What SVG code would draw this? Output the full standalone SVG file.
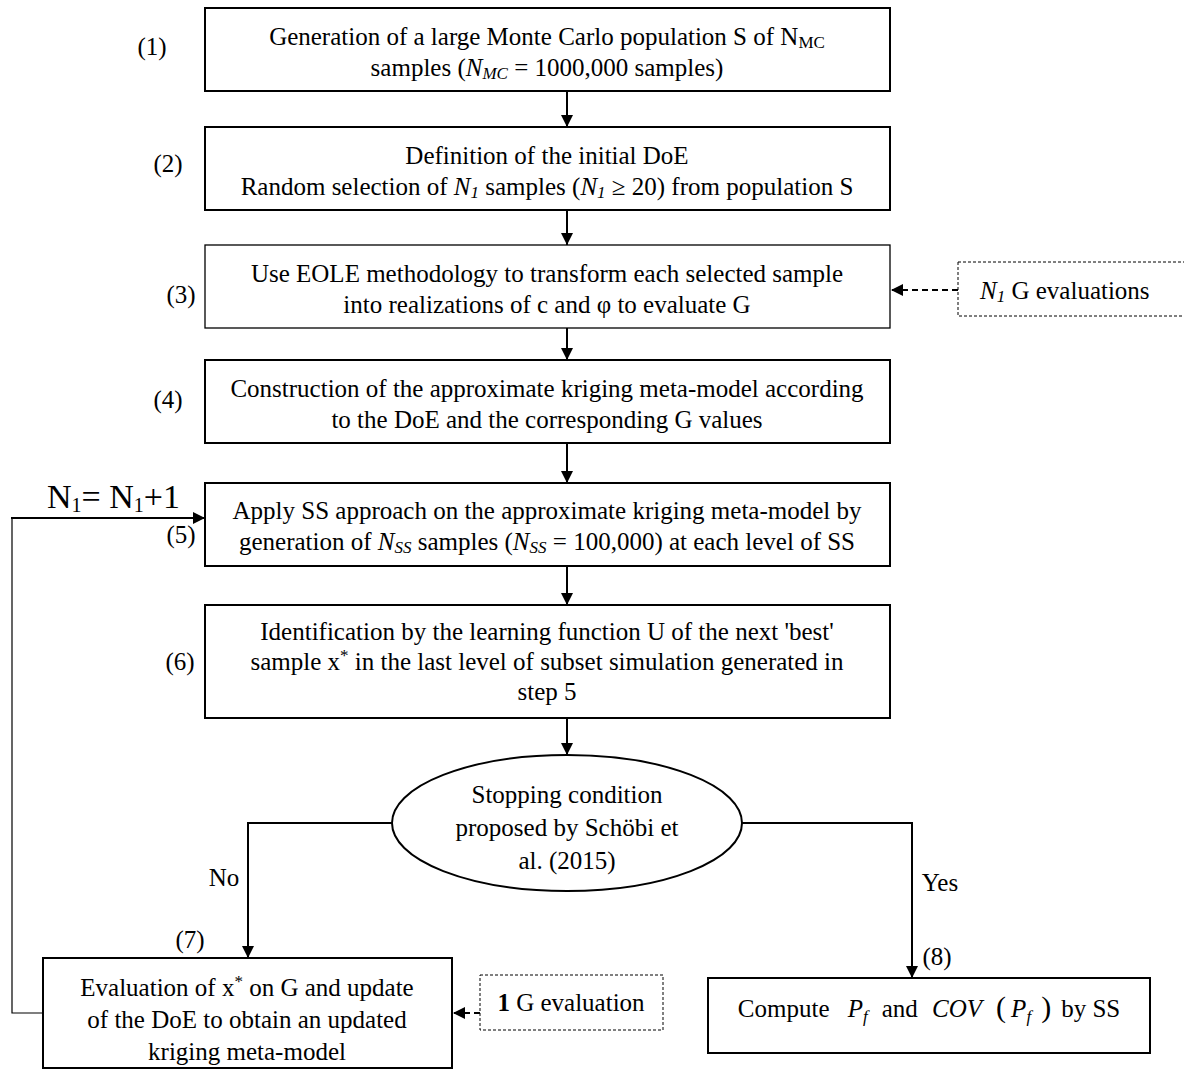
<svg xmlns="http://www.w3.org/2000/svg" width="1184" height="1073" viewBox="0 0 1184 1073" font-family="'Liberation Serif', 'DejaVu Serif', serif">
  <style>
    text { font-family: "Liberation Serif", "DejaVu Serif", serif; font-size: 25px; fill: #000; }
    .c { text-anchor: middle; }
    .box { fill: #fff; stroke: #000; stroke-width: 2; }
    .dash { fill: #fff; stroke: #000; stroke-width: 1; stroke-dasharray: 3 2; }
    .line { fill: none; stroke: #000; stroke-width: 2; }
    .thin { fill: none; stroke: #000; stroke-width: 1.2; }
    .dline { fill: none; stroke: #000; stroke-width: 2; stroke-dasharray: 6 4; }
    .i { font-style: italic; }
    .sub { font-size: 17px; }
    .big { font-size: 34px; }
    .bigsub { font-size: 20px; }
  </style>
  <defs>
    <marker id="arrow" viewBox="0 0 10 10" refX="10" refY="5" markerWidth="6.5" markerHeight="6" markerUnits="strokeWidth" orient="auto">
      <path d="M0,0 L10,5 L0,10 z" fill="#000"/>
    </marker>
  </defs>

  <!-- connectors -->
  <g id="connectors">
    <line class="line" x1="567" y1="91" x2="567" y2="127" marker-end="url(#arrow)"/>
    <line class="line" x1="567" y1="210" x2="567" y2="245" marker-end="url(#arrow)"/>
    <line class="line" x1="567" y1="328" x2="567" y2="360" marker-end="url(#arrow)"/>
    <line class="line" x1="567" y1="443" x2="567" y2="483" marker-end="url(#arrow)"/>
    <line class="line" x1="567" y1="566" x2="567" y2="605" marker-end="url(#arrow)"/>
    <line class="line" x1="567" y1="718" x2="567" y2="755" marker-end="url(#arrow)"/>
    <!-- evaluation inputs -->
    <line class="dline" x1="958" y1="290" x2="891" y2="290" marker-end="url(#arrow)"/>
    <line class="dline" x1="480" y1="1013" x2="453" y2="1013" marker-end="url(#arrow)"/>
    <!-- decision branches -->
    <polyline class="line" points="392,823 248,823 248,958" marker-end="url(#arrow)"/>
    <polyline class="line" points="742,823 912,823 912,978" marker-end="url(#arrow)"/>
    <!-- loop back to step 5 -->
    <polyline class="thin" points="43,1013 12,1013 12,518"/>
    <line class="line" x1="11" y1="518" x2="205" y2="518" marker-end="url(#arrow)"/>
  </g>

  <!-- step labels -->
  <g id="labels">
    <text x="152" y="55" class="c">(1)</text>
    <text x="168" y="172" class="c">(2)</text>
    <text x="181" y="303" class="c">(3)</text>
    <text x="168" y="408" class="c">(4)</text>
    <text x="181" y="543" class="c">(5)</text>
    <text x="180" y="670" class="c">(6)</text>
    <text x="190" y="948" class="c">(7)</text>
    <text x="937" y="965" class="c">(8)</text>
    <text x="224" y="886" class="c">No</text>
    <text x="940" y="891" class="c">Yes</text>
    <text x="47" y="508" class="big">N<tspan class="bigsub" dy="4">1</tspan><tspan dy="-4">= N</tspan><tspan class="bigsub" dy="4">1</tspan><tspan dy="-4">+1</tspan></text>
  </g>

  <g id="step1">
    <rect class="box" x="205" y="8" width="685" height="83"/>
    <text x="547" y="45" class="c">Generation of a large Monte Carlo population S of N<tspan class="sub" dy="3">MC</tspan></text>
    <text x="547" y="76" class="c">samples (<tspan class="i">N</tspan><tspan class="i sub" dy="3">MC</tspan><tspan dy="-3"> = 1000,000 samples)</tspan></text>
  </g>

  <g id="step2">
    <rect class="box" x="205" y="127" width="685" height="83"/>
    <text x="547" y="164" class="c">Definition of the initial DoE</text>
    <text x="547" y="195" class="c">Random selection of <tspan class="i">N</tspan><tspan class="i sub" dy="3">1</tspan><tspan dy="-3"> samples (</tspan><tspan class="i">N</tspan><tspan class="i sub" dy="3">1</tspan><tspan dy="-3"> ≥ 20) from population S</tspan></text>
  </g>

  <g id="step3">
    <rect class="box" x="205" y="245" width="685" height="83" style="stroke-width:1.3"/>
    <text x="547" y="282" class="c">Use EOLE methodology to transform each selected sample</text>
    <text x="547" y="313" class="c">into realizations of c and φ to evaluate G</text>
  </g>

  <g id="eval-n1">
    <rect class="dash" x="958" y="262" width="240" height="54"/>
    <text x="980" y="299"><tspan class="i">N</tspan><tspan class="i sub" dy="3">1</tspan><tspan dy="-3"> G evaluations</tspan></text>
  </g>

  <g id="step4">
    <rect class="box" x="205" y="360" width="685" height="83"/>
    <text x="547" y="397" class="c">Construction of the approximate kriging meta-model according</text>
    <text x="547" y="428" class="c">to the DoE and the corresponding G values</text>
  </g>

  <g id="step5">
    <rect class="box" x="205" y="483" width="685" height="83"/>
    <text x="547" y="519" class="c">Apply SS approach on the approximate kriging meta-model by</text>
    <text x="547" y="550" class="c">generation of <tspan class="i">N</tspan><tspan class="i sub" dy="3">SS</tspan><tspan dy="-3"> samples (</tspan><tspan class="i">N</tspan><tspan class="i sub" dy="3">SS</tspan><tspan dy="-3"> = 100,000) at each level of SS</tspan></text>
  </g>

  <g id="step6">
    <rect class="box" x="205" y="605" width="685" height="113"/>
    <text x="547" y="640" class="c">Identification by the learning function U of the next 'best'</text>
    <text x="547" y="670" class="c">sample x<tspan class="sub" dy="-9">*</tspan><tspan dy="9"> in the last level of subset simulation generated in</tspan></text>
    <text x="547" y="700" class="c">step 5</text>
  </g>

  <g id="decision">
    <ellipse cx="567" cy="823" rx="175" ry="68" fill="#fff" stroke="#000" stroke-width="2"/>
    <text x="567" y="803" class="c">Stopping condition</text>
    <text x="567" y="836" class="c">proposed by Schöbi et</text>
    <text x="567" y="869" class="c">al. (2015)</text>
  </g>

  <g id="step7">
    <rect class="box" x="43" y="958" width="409" height="110"/>
    <text x="247" y="996" class="c">Evaluation of x<tspan class="sub" dy="-9">*</tspan><tspan dy="9"> on G and update</tspan></text>
    <text x="247" y="1028" class="c">of the DoE to obtain an updated</text>
    <text x="247" y="1060" class="c">kriging meta-model</text>
  </g>

  <g id="eval-one">
    <rect class="dash" x="480" y="975" width="183" height="55"/>
    <text x="571" y="1011" class="c"><tspan font-weight="bold">1</tspan> G evaluation</text>
  </g>

  <g id="step8">
    <rect class="box" x="708" y="978" width="442" height="75"/>
    <text x="929" y="1017" class="c">Compute <tspan class="i" dx="12">P</tspan><tspan class="i sub" dy="5">f</tspan><tspan dy="-5" dx="14">and </tspan><tspan class="i" dx="8">COV</tspan><tspan dx="14" style="font-size:30px">(</tspan><tspan class="i" dx="5">P</tspan><tspan class="i sub" dy="5">f</tspan><tspan dy="-5" dx="10" style="font-size:30px">)</tspan><tspan dx="10">by SS</tspan></text>
  </g>
</svg>
